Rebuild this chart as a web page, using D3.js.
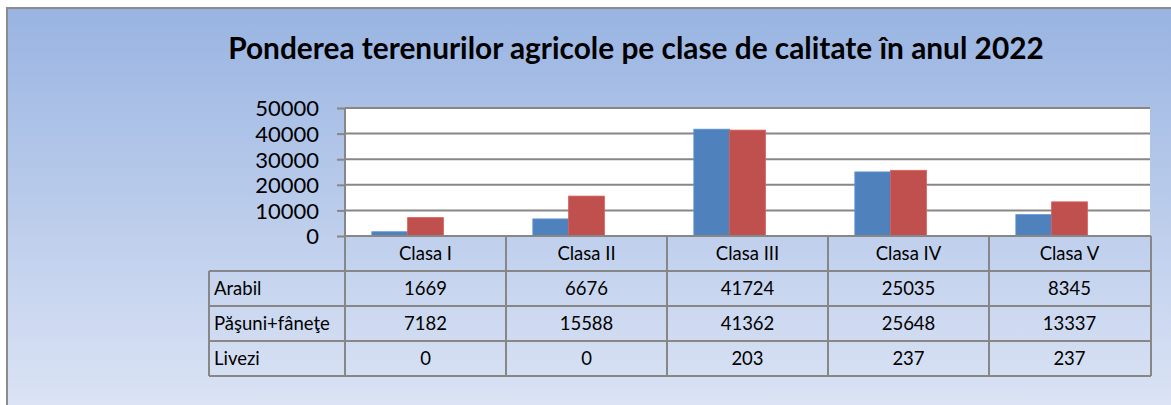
<!DOCTYPE html>
<html>
<head>
<meta charset="utf-8">
<script src="https://cdn.jsdelivr.net/npm/d3@7"></script>
<style>
    body { margin: 0; background: #fff; }
    svg { display: block; font-family: Lato, "Open Sans", sans-serif; }
</style>
</head>
<body>
<svg id="chart" width="1171" height="405"></svg>
<script>
const title = "Ponderea terenurilor agricole pe clase de calitate în anul 2022";
const categories = ["Clasa I", "Clasa II", "Clasa III", "Clasa IV", "Clasa V"];
const seriesNames = ["Arabil", "Păşuni+fâneţe", "Livezi"];
const arabil = [1669, 6676, 41724, 25035, 8345];
const pasuni = [7182, 15588, 41362, 25648, 13337];
const livezi = [0, 0, 203, 237, 237];
const yTicks = [0, 10000, 20000, 30000, 40000, 50000];
const colors = ["#4f81bd", "#c0504d", "#9bbb59"];

const seriesValues = [arabil, pasuni, livezi];

const svg = d3.select("#chart");
const width = 1171;

// background with gradient
const defs = svg.append("defs");
const grad = defs.append("linearGradient")
    .attr("id", "bg")
    .attr("x1", 0).attr("y1", 0).attr("x2", 0).attr("y2", 1);
grad.append("stop").attr("offset", "0%").attr("stop-color", "#99b4e2");
grad.append("stop").attr("offset", "100%").attr("stop-color", "#dfe6f5");

svg.append("rect")
    .attr("x", 7).attr("y", 8)
    .attr("width", width + 10).attr("height", 420)
    .attr("fill", "url(#bg)")
    .attr("stroke", "#8c8c8c")
    .attr("stroke-width", 2);

// title
const titleText = svg.append("text")
    .attr("x", 636)
    .attr("y", 59)
    .attr("text-anchor", "middle")
    .attr("font-weight", "bold")
    .attr("font-size", 24)
    .attr("fill", "#000")
    .text(title);
const tw = titleText.node().getComputedTextLength();
titleText.attr("font-size", 24 * 816 / tw);

const plot = { left: 345, right: 1150, top: 108, bottom: 236 };
const rowH = 35;
const tableFont = 18.5;

const x0 = d3.scaleBand()
    .domain(categories)
    .range([plot.left, plot.right])
    .paddingInner(0).paddingOuter(0);

const x1 = d3.scaleBand()
    .domain(seriesNames)
    .range([0, x0.bandwidth()])
    .paddingInner(0).paddingOuter(0.75);

const yScale = d3.scaleLinear()
    .domain([0, 50000])
    .range([plot.bottom, plot.top]);

// plot area
svg.append("rect")
    .attr("x", plot.left).attr("y", plot.top)
    .attr("width", plot.right - plot.left)
    .attr("height", plot.bottom - plot.top)
    .attr("fill", "#fff");

const gridColor = "#878787";

svg.append("g")
    .selectAll("line")
    .data(yTicks)
    .join("line")
    .attr("x1", plot.left).attr("x2", plot.right)
    .attr("y1", d => yScale(d)).attr("y2", d => yScale(d))
    .attr("stroke", gridColor)
    .attr("stroke-width", 2);

// bars
const barData = [];
categories.forEach((c, i) => {
    seriesNames.forEach((s, j) => {
        barData.push({ cat: c, series: s, value: seriesValues[j][i], color: colors[j] });
    });
});

svg.append("g")
    .selectAll("rect")
    .data(barData)
    .join("rect")
    .attr("x", d => x0(d.cat) + x1(d.series))
    .attr("y", d => yScale(d.value))
    .attr("width", x1.bandwidth())
    .attr("height", d => yScale(0) - yScale(d.value))
    .attr("fill", d => d.color)
    .attr("stroke", d => d3.color(d.color).brighter(0.4))
    .attr("stroke-width", 0.8);

// y axis
const yAxis = d3.axisLeft(yScale)
    .tickValues(yTicks)
    .tickSize(8)
    .tickPadding(18)
    .tickFormat(d3.format("d"));

const yAxisG = svg.append("g")
    .attr("transform", `translate(${plot.left},0)`)
    .call(yAxis);
yAxisG.selectAll(".tick line").attr("stroke", gridColor).attr("stroke-width", 2);
yAxisG.select(".domain").remove();
yAxisG.selectAll(".tick text")
    .attr("font-size", 22)
    .attr("font-family", "Lato, sans-serif")
    .attr("fill", "#000")
    .attr("dy", "0.36em");

svg.append("line")
    .attr("x1", plot.left).attr("x2", plot.left)
    .attr("y1", plot.top).attr("y2", plot.bottom)
    .attr("stroke", gridColor).attr("stroke-width", 2);

// data table
const table = svg.append("g");
const labelLeft = 209;
const tableTop = plot.bottom;
const tableBottom = tableTop + rowH * 4;

const lineStyle = sel => sel.attr("stroke", gridColor).attr("stroke-width", 2);

// horizontal lines
table.append("line").attr("x1", plot.left).attr("x2", plot.right + 1)
    .attr("y1", tableTop).attr("y2", tableTop).call(lineStyle);
d3.range(1, 5).forEach(r => {
    table.append("line").attr("x1", labelLeft).attr("x2", plot.right + 1)
        .attr("y1", tableTop + r * rowH).attr("y2", tableTop + r * rowH).call(lineStyle);
});

// vertical lines
table.append("line").attr("x1", labelLeft).attr("x2", labelLeft)
    .attr("y1", tableTop + rowH).attr("y2", tableBottom).call(lineStyle);
categories.forEach(c => {
    table.append("line").attr("x1", x0(c)).attr("x2", x0(c))
        .attr("y1", tableTop).attr("y2", tableBottom).call(lineStyle);
});
table.append("line").attr("x1", plot.right + 1).attr("x2", plot.right + 1)
    .attr("y1", tableTop).attr("y2", tableBottom).call(lineStyle);

// header labels
table.selectAll(".cat")
    .data(categories)
    .join("text")
    .attr("class", "cat")
    .attr("x", d => x0(d) + x0.bandwidth() / 2)
    .attr("y", tableTop + rowH / 2)
    .attr("dy", "0.36em")
    .attr("text-anchor", "middle")
    .attr("font-size", tableFont)
    .text(d => d);

// row labels and values
seriesNames.forEach((s, j) => {
    const yMid = tableTop + (j + 1) * rowH + rowH / 2;
    table.append("text")
        .attr("x", labelLeft + 5)
        .attr("y", yMid)
        .attr("dy", "0.36em")
        .attr("font-size", tableFont)
        .text(s);
    table.selectAll(`.v${j}`)
        .data(seriesValues[j])
        .join("text")
        .attr("class", `v${j}`)
        .attr("x", (d, i) => x0(categories[i]) + x0.bandwidth() / 2)
        .attr("y", yMid)
        .attr("dy", "0.36em")
        .attr("text-anchor", "middle")
        .attr("font-size", tableFont)
        .text(d => d);
});
</script>
</body>
</html>
